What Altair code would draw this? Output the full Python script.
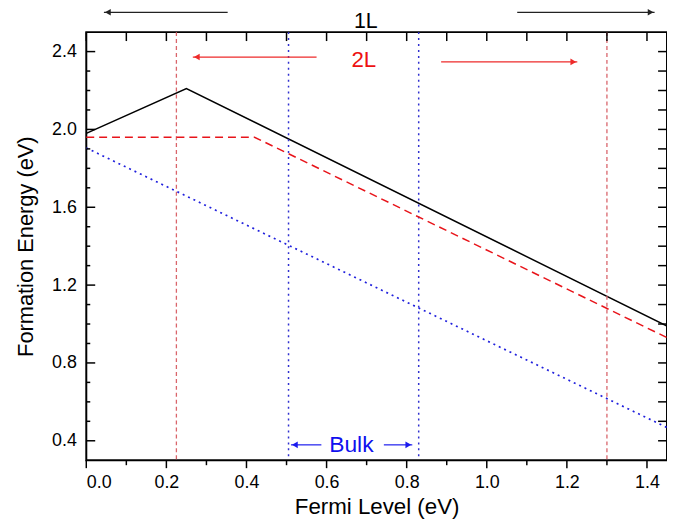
import altair as alt
import pandas as pd

# ---- data ----
fermi_1L = [0.0, 0.25, 1.45]
energy_1L = [1.98, 2.21, 0.99]
fermi_2L = [0.0, 0.42, 1.45]
energy_2L = [1.96, 1.96, 0.93]
fermi_bulk = [0.0, 1.45]
energy_bulk = [1.905, 0.468]
vlines_2L = [0.225, 1.30]
vlines_bulk = [0.505, 0.83]

x_ticks_all = [round(0.1 * i, 1) for i in range(15)]
x_ticks_major = [round(0.2 * i, 1) for i in range(8)]
x_ticks_minor = [v for v in x_ticks_all if v not in x_ticks_major]
y_ticks_all = [round(0.3 + 0.1 * i, 1) for i in range(1, 22)]
y_ticks_major = [0.4, 0.8, 1.2, 1.6, 2.0, 2.4]
y_ticks_minor = [v for v in y_ticks_all if v not in y_ticks_major]

labels_text = ["1L", "2L", "Bulk"]
labels_x = [0.698, 0.693, 0.662]
labels_y = [2.55, 2.357, 0.379]
labels_color = ["black", "#ee1111", "#1010ee"]

arrow_group = ["1L", "1L", "2L", "2L", "Bulk", "Bulk"]
arrow_from = [0.353, 1.076, 0.575, 0.886, 0.587, 0.743]
arrow_to = [0.044, 1.419, 0.266, 1.226, 0.511, 0.814]
arrow_y = [2.602, 2.602, 2.372, 2.347, 0.379, 0.379]

W, H = 586, 432
FONT = "Liberation Sans"

xs = alt.Scale(domain=[0, 1.45], nice=False, zero=False)
ys = alt.Scale(domain=[0.3, 2.5], nice=False, zero=False)

df1 = pd.DataFrame({"x": fermi_1L, "y": energy_1L})
df2 = pd.DataFrame({"x": fermi_2L, "y": energy_2L})
dfb = pd.DataFrame({"x": fermi_bulk, "y": energy_bulk})

base_x = alt.X("x:Q", scale=xs, title="Fermi Level (eV)",
               axis=alt.Axis(values=x_ticks_major, format=".1f", ticks=False, domain=False,
                             grid=False, labelFontSize=18, labelPadding=14,
                             titleFontSize=22.5, titleFontWeight="normal", titlePadding=4,
                             labelFont=FONT, titleFont=FONT, labelColor="black", titleColor="black"))
base_y = alt.Y("y:Q", scale=ys, title="Formation Energy (eV)",
               axis=alt.Axis(values=y_ticks_major, format=".1f", ticks=False, domain=False,
                             grid=False, labelFontSize=18, labelPadding=10,
                             titleFontSize=22, titleFontWeight="normal", titlePadding=14,
                             labelFont=FONT, titleFont=FONT, labelColor="black", titleColor="black"))

line1 = alt.Chart(df1).mark_line(color="black", strokeWidth=1.5).encode(x=base_x, y=base_y)
line2 = alt.Chart(df2).mark_line(color="#e8141a", strokeWidth=1.5, strokeDash=[8, 5]).encode(
    x=alt.X("x:Q", scale=xs), y=alt.Y("y:Q", scale=ys))
lineb = alt.Chart(dfb).mark_line(color="#2020dd", strokeWidth=1.7, strokeDash=[2, 4]).encode(
    x=alt.X("x:Q", scale=xs), y=alt.Y("y:Q", scale=ys))

v2 = alt.Chart(pd.DataFrame({"x": vlines_2L})).mark_rule(
    color="#d9656b", strokeWidth=1.3, strokeDash=[4, 3]).encode(x=alt.X("x:Q", scale=xs))
vb = alt.Chart(pd.DataFrame({"x": vlines_bulk})).mark_rule(
    color="#3030d0", strokeWidth=1.5, strokeDash=[2, 4]).encode(x=alt.X("x:Q", scale=xs))

# ticks
def xtick(vals, y0, y1):
    return alt.Chart(pd.DataFrame({"x": vals})).mark_rule(color="black", strokeWidth=1.5).encode(
        x=alt.X("x:Q", scale=xs), y=alt.value(y0), y2=alt.value(y1))

def ytick(vals, x0, x1):
    return alt.Chart(pd.DataFrame({"y": vals})).mark_rule(color="black", strokeWidth=1.5).encode(
        y=alt.Y("y:Q", scale=ys), x=alt.value(x0), x2=alt.value(x1))

ticks = [
    xtick(x_ticks_major, H, H + 8),
    xtick(x_ticks_minor, H, H + 5),
    xtick(x_ticks_all, 0, 9),
    ytick(y_ticks_major, 0, 9),
    ytick(y_ticks_minor, 0, 4),
    ytick(y_ticks_all, W, W - 9),
]

# annotations
dfl = pd.DataFrame({"t": labels_text, "x": labels_x, "y": labels_y, "c": labels_color})
texts = []
for t, size in zip(labels_text, [21.5, 22.5, 23]):
    texts.append(alt.Chart(dfl[dfl.t == t]).mark_text(
        font=FONT, fontSize=size, align="center", baseline="middle").encode(
        x=alt.X("x:Q", scale=xs), y=alt.Y("y:Q", scale=ys), text="t:N",
        color=alt.Color("c:N", scale=None)))

dfa = pd.DataFrame({"g": arrow_group, "x0": arrow_from, "x1": arrow_to, "y": arrow_y})
dfa["dir"] = ["left" if b < a else "right" for a, b in zip(arrow_from, arrow_to)]
arrow_colors = {"1L": "#222222", "2L": "#ee2a2a", "Bulk": "#1a1aee"}
arrows = []
for g, col in arrow_colors.items():
    sub = dfa[dfa.g == g]
    arrows.append(alt.Chart(sub).mark_rule(color=col, strokeWidth=1.2).encode(
        x=alt.X("x0:Q", scale=xs), x2="x1:Q", y=alt.Y("y:Q", scale=ys)))
    for d, off in [("left", 4), ("right", -4)]:
        s2 = sub[sub.dir == d]
        if len(s2):
            arrows.append(alt.Chart(s2).mark_point(
                shape="triangle-" + d, filled=True, size=45, color=col, opacity=1, xOffset=off).encode(
                x=alt.X("x1:Q", scale=xs), y=alt.Y("y:Q", scale=ys)))

chart = alt.layer(line1, v2, vb, line2, lineb, *ticks, *texts, *arrows).properties(
    width=W, height=H,
    autosize=alt.AutoSizeParams(type="none"),
    padding={"left": 79, "top": 22, "right": 0, "bottom": 62},
).configure(background="white").configure_view(stroke="black", strokeWidth=2)

chart.save("out.html", embed_options={"renderer": "svg", "actions": False})
